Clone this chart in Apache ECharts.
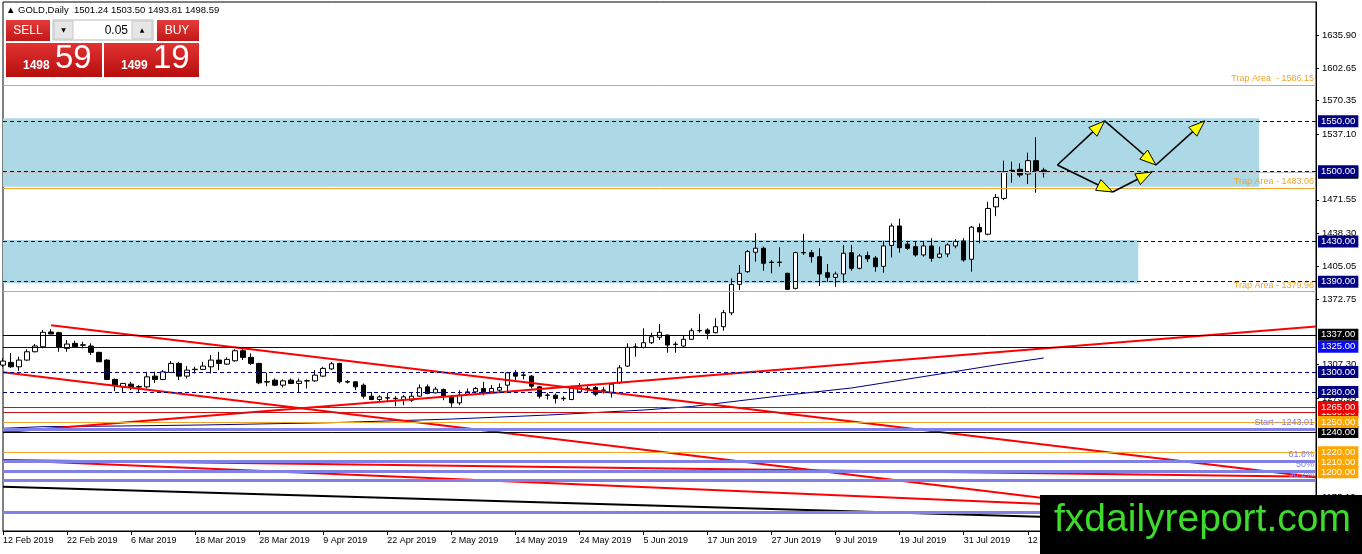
<!DOCTYPE html>
<html><head><meta charset="utf-8">
<script src="https://cdn.jsdelivr.net/npm/echarts@6/dist/echarts.min.js"></script>
<style>html,body{margin:0;padding:0;background:#fff}#c{width:1362px;height:554px}</style>
</head><body><div id="c"></div>
<script>
const FONT = "'Liberation Sans', Arial, sans-serif";

// x-axis tick labels (one every 8 trading days)
const dateLabels = ['12 Feb 2019','22 Feb 2019','6 Mar 2019','18 Mar 2019','28 Mar 2019','9 Apr 2019','22 Apr 2019','2 May 2019','14 May 2019','24 May 2019','5 Jun 2019','17 Jun 2019','27 Jun 2019','9 Jul 2019','19 Jul 2019','31 Jul 2019','12 Aug 2019'];
const slotCount = 165; // chart width in bar slots (incl. empty space on the right)

// daily candles: [open, close, low, high]
const candles = [
[1306.8,1310.8,1304.8,1313.8],[1309.5,1305.1,1304.1,1318.8],[1305.1,1311.8,1301.1,1315.1],[1311.8,1320.1,1311.1,1322.5],
[1320.1,1325.8,1319.5,1327.8],[1325.1,1339.5,1323.5,1341.8],[1339.8,1337.8,1337.8,1342.5],[1339.1,1324.5,1320.1,1340.1],
[1323.5,1327.8,1320.1,1331.8],[1328.5,1325.1,1324.5,1331.1],[1327.0,1326.6,1323.5,1330.1],[1325.8,1319.5,1316.8,1328.5],
[1319.5,1310.1,1310.1,1320.1],[1311.8,1292.5,1291.8,1312.5],[1292.5,1286.8,1280.8,1293.5],[1285.1,1288.5,1280.1,1289.1],
[1287.8,1285.1,1281.8,1290.1],[1285.5,1284.9,1280.1,1286.8],[1285.1,1295.1,1283.5,1300.1],[1295.8,1292.5,1289.1,1300.1],
[1292.5,1300.1,1291.8,1301.8],[1299.5,1308.5,1299.5,1310.8],[1308.5,1295.8,1291.8,1310.1],[1295.8,1301.8,1293.5,1305.8],
[1302.3,1302.7,1298.5,1305.1],[1302.5,1305.8,1301.8,1310.1],[1305.1,1311.8,1298.5,1316.8],[1311.8,1308.5,1301.8,1320.1],
[1307.8,1312.5,1306.8,1314.5],[1311.1,1321.1,1310.1,1322.5],[1321.1,1314.5,1311.8,1323.5],[1314.5,1308.5,1306.8,1318.5],
[1308.5,1289.1,1287.8,1309.1],[1290.3,1289.9,1285.8,1299.1],[1291.8,1286.8,1285.8,1293.5],[1286.8,1291.1,1284.5,1292.5],
[1291.8,1288.5,1287.8,1293.5],[1288.5,1290.8,1280.1,1293.5],[1290.9,1291.3,1283.5,1292.5],[1291.1,1296.8,1290.1,1301.8],
[1295.8,1303.5,1295.1,1305.1],[1303.0,1308.1,1301.8,1310.1],[1308.5,1290.1,1288.5,1309.1],[1290.3,1289.9,1288.5,1291.8],
[1290.1,1285.1,1281.8,1290.8],[1286.8,1275.8,1273.5,1288.5],[1275.8,1272.5,1271.8,1280.1],[1272.5,1275.1,1271.1,1276.8],
[1273.9,1274.3,1270.1,1279.1],[1273.7,1273.3,1265.8,1275.8],[1272.5,1275.1,1266.8,1276.8],[1271.8,1275.8,1270.1,1280.1],
[1275.8,1284.1,1275.1,1287.5],[1285.1,1278.5,1277.8,1287.5],[1279.1,1282.8,1278.5,1285.1],[1282.5,1275.8,1271.8,1283.5],
[1275.1,1269.1,1265.1,1276.8],[1269.1,1276.8,1266.8,1281.8],[1277.8,1280.1,1276.8,1283.5],[1280.1,1283.5,1278.5,1285.1],
[1283.5,1279.1,1276.8,1290.1],[1280.1,1283.5,1278.5,1286.8],[1281.8,1284.5,1280.1,1288.5],[1286.8,1299.1,1280.1,1300.1],
[1299.1,1295.8,1291.8,1301.8],[1297.0,1296.6,1292.5,1300.1],[1295.8,1285.8,1283.5,1296.8],[1285.1,1275.8,1273.5,1285.8],
[1276.6,1277.0,1272.5,1279.1],[1276.8,1273.5,1268.5,1278.5],[1273.3,1273.7,1271.1,1275.8],[1272.5,1283.5,1271.8,1285.1],
[1280.1,1285.1,1278.8,1288.8],[1283.3,1283.7,1280.1,1285.8],[1284.5,1277.8,1275.8,1285.8],[1281.6,1282.0,1278.5,1285.1],
[1279.1,1287.8,1274.5,1289.1],[1289.1,1304.1,1287.8,1306.8],[1305.8,1324.5,1305.1,1328.5],[1324.6,1325.0,1315.1,1328.5],
[1324.5,1329.1,1323.5,1343.5],[1329.1,1335.1,1327.8,1339.1],[1334.5,1339.5,1331.8,1347.8],[1336.8,1326.8,1319.1,1337.0],
[1327.3,1327.7,1319.1,1330.1],[1325.8,1332.5,1323.8,1335.8],[1332.5,1341.1,1331.8,1343.5],[1341.0,1341.4,1339.1,1357.8],
[1341.8,1338.5,1332.5,1343.5],[1339.1,1345.1,1338.5,1353.5],[1345.1,1359.1,1341.1,1361.8],[1358.9,1387.3,1356.6,1393.3],
[1387.3,1398.3,1381.6,1406.6],[1399.9,1419.9,1398.9,1421.6],[1419.3,1423.3,1409.9,1438.3],[1423.3,1408.3,1400.9,1424.9],
[1409.5,1409.1,1398.3,1411.6],[1409.1,1409.5,1404.9,1424.3],[1398.3,1382.3,1381.6,1398.9],[1383.3,1418.9,1382.3,1419.9],
[1418.7,1419.1,1416.6,1437.6],[1418.9,1414.9,1408.9,1421.6],[1414.9,1397.6,1385.6,1423.3],[1398.9,1394.3,1389.9,1407.6],
[1394.3,1397.6,1384.9,1399.9],[1397.6,1418.3,1388.9,1426.6],[1418.9,1403.3,1400.9,1426.6],[1403.3,1415.6,1402.3,1417.6],
[1416.1,1412.8,1409.6,1419.9],[1413.6,1404.9,1399.9,1415.6],[1405.3,1425.6,1398.9,1430.6],[1426.1,1445.5,1414.1,1448.0],
[1445.5,1423.9,1418.9,1452.8],[1427.3,1423.3,1421.6,1429.9],[1424.9,1416.6,1414.9,1429.9],[1416.6,1425.6,1414.9,1429.9],
[1425.6,1413.3,1409.9,1433.3],[1414.3,1417.6,1413.3,1424.9],[1417.6,1426.6,1414.3,1428.3],[1425.6,1429.9,1423.3,1432.3],
[1430.6,1411.6,1409.9,1433.3],[1412.3,1444.3,1399.9,1445.6],[1444.0,1439.6,1428.2,1448.0],[1437.3,1463.0,1436.3,1469.6],
[1464.6,1474.0,1455.3,1477.3],[1473.0,1499.6,1471.3,1510.6],[1501.0,1500.6,1488.6,1509.6],[1502.0,1496.3,1494.0,1508.0],
[1497.3,1510.6,1487.3,1518.6],[1510.6,1500.6,1478.6,1534.0],[1501.24,1498.59,1493.81,1503.5]
];

// right price scale labels
const yTicks = [1635.90,1602.65,1570.35,1537.10,1471.55,1438.30,1405.05,1372.75,1307.30,1273.95,1175.10];

// horizontal levels
const dashedLevels = [1550, 1500, 1430, 1390, 1300, 1280];
const trapLevels = [1586.15, 1483.06, 1379.96];
const trapTexts = ['Trap Area  - 1586.15', 'Trap Area - 1483.06', 'Trap Area - 1379.96'];
const orangeLevels = [1250, 1220, 1210, 1200];
const redLevels = [1260, 1265];
const blackLevels = [1337, 1240];
const blueLevels = [1325];
const bidLevel = 1498.59;
const startLevel = 1243.01;
const fibLevels = [1211.15, 1201.3, 1191.5, 1159.6];
const fibNames = ['61.8%', '50%', '38.2%', ''];

// zones [barIndex, price]
const zoneUpper = [[0, 1553], [156.9, 1484.5]];
const zoneLower = [[0, 1431.5], [141.8, 1388.5]];

// trend lines [barIndex, price]
const redTrends = [
  [[6.0, 1346.5], [164, 1195.0]],
  [[0, 1299.6], [164, 1141.5]],
  [[0, 1239.8], [164, 1345.3]],
  [[0, 1212.1], [164, 1156.9]],
  [[0, 1212.2], [164, 1195.5]]
];
const blackTrend = [[0, 1185.6], [164, 1147.7]];
const maPoints = [[0,1243.8],[5,1245.4],[15,1246.1],[25,1247.1],[41,1249.4],[56,1253.0],[68,1257.0],[80,1262.0],[86,1265.5],[98,1277.0],[106,1284.0],[117,1297.9],[124,1306.9],[130,1313.9]];

// projection arrows [x1, y1, x2, y2]
const arrows = [
  [131.7,1506.3,137.6,1550.2],
  [137.6,1550.2,144.0,1506.3],
  [144.0,1506.3,150.1,1550.2],
  [131.7,1506.3,138.6,1479.4],
  [138.6,1479.4,143.5,1499.3]
];

const cats = Array.from({length: slotCount}, (_, i) => String(i));
const showTick = (i) => i % 8 === 0 && i / 8 < dateLabels.length;

function boxLabel(v, bg) {
  return {show: true, position: 'end', formatter: v.toFixed(2), color: '#fff', backgroundColor: bg,
    padding: [1, 3, 0, 3], fontSize: 9.5, fontFamily: FONT, distance: 2, lineHeight: 11};
}
function textLabel(t, color) {
  return {show: true, position: 'insideEndTop', formatter: t, color: color, fontSize: 9, fontFamily: FONT, distance: 2};
}

const ORANGE = '#f2a52a', NAVY = '#000080', PURPLE = '#8080e6';
const mlData = [];
mlData.push({yAxis: bidLevel, lineStyle: {color: '#c0c0c0', type: 'solid', width: 1}, label: boxLabel(bidLevel, '#000')});
trapLevels.forEach((v, i) => mlData.push({yAxis: v, lineStyle: {color: ORANGE, type: 'solid', width: 1}, label: textLabel(trapTexts[i], ORANGE)}));
dashedLevels.forEach(v => mlData.push({yAxis: v, lineStyle: {color: NAVY, type: [4, 3], width: 1}, label: boxLabel(v, NAVY)}));
blackLevels.forEach(v => mlData.push({yAxis: v, lineStyle: {color: '#000', type: 'solid', width: 1}, label: boxLabel(v, '#000')}));
blueLevels.forEach(v => mlData.push({yAxis: v, lineStyle: {color: '#0000a0', type: 'solid', width: 1}, label: boxLabel(v, '#0a0af5')}));
redLevels.forEach(v => mlData.push({yAxis: v, lineStyle: {color: '#c81414', type: 'solid', width: 1}, label: boxLabel(v, '#f00000')}));
orangeLevels.forEach(v => mlData.push({yAxis: v, lineStyle: {color: ORANGE, type: 'solid', width: 1}, label: boxLabel(v, '#ffa500')}));
mlData.push({yAxis: startLevel, lineStyle: {color: PURPLE, type: 'solid', width: 3}, label: textLabel('Start - ' + startLevel.toFixed(2), PURPLE)});
fibLevels.forEach((v, i) => mlData.push({yAxis: v, lineStyle: {color: PURPLE, type: 'solid', width: 3},
  label: fibNames[i] ? textLabel(fibNames[i], PURPLE) : {show: false}}));

const redGrad = {type: 'linear', x: 0, y: 0, x2: 0, y2: 1, colorStops: [{offset: 0, color: '#e23232'}, {offset: 1, color: '#b70e0e'}]};
const btnGrad = {type: 'linear', x: 0, y: 0, x2: 0, y2: 1, colorStops: [{offset: 0, color: '#e43a3a'}, {offset: 1, color: '#c31818'}]};

const series = [
  {type: 'line', xAxisIndex: 1, data: [[0, 1500]], showSymbol: false, symbol: 'none', lineStyle: {opacity: 0}, silent: true, z: 1,
    markArea: {silent: true, itemStyle: {color: '#add8e6'},
      data: [[{coord: zoneUpper[0]}, {coord: zoneUpper[1]}], [{coord: zoneLower[0]}, {coord: zoneLower[1]}]]}},
  {type: 'line', xAxisIndex: 1, data: [[0, 1500]], showSymbol: false, symbol: 'none', lineStyle: {opacity: 0}, silent: true, z: 2,
    markLine: {silent: true, symbol: ['none', 'none'], animation: false, data: mlData}},
  {type: 'candlestick', xAxisIndex: 0, data: candles, barWidth: 5, z: 3, silent: true,
    itemStyle: {color: '#fff', color0: '#000', borderColor: '#000', borderColor0: '#000', borderWidth: 1}},
  {type: 'line', xAxisIndex: 1, data: maPoints, symbol: 'none', lineStyle: {color: NAVY, width: 1}, z: 4, silent: true}
];
redTrends.forEach(t => series.push({type: 'line', xAxisIndex: 1, data: t, symbol: 'none', lineStyle: {color: '#f00', width: 2}, z: 4, silent: true}));
series.push({type: 'line', xAxisIndex: 1, data: blackTrend, symbol: 'none', lineStyle: {color: '#000', width: 2}, z: 4, silent: true});
series.push({type: 'custom', xAxisIndex: 1, data: arrows, encode: {x: [0, 2], y: [1, 3]}, z: 6, silent: true,
  renderItem: (params, api) => {
    const p1 = api.coord([api.value(0), api.value(1)]);
    const p2 = api.coord([api.value(2), api.value(3)]);
    const dx = p2[0] - p1[0], dy = p2[1] - p1[1];
    const len = Math.hypot(dx, dy), ux = dx / len, uy = dy / len;
    const L = 16, W = 6;
    const bx = p2[0] - ux * L, by = p2[1] - uy * L;
    return {type: 'group', children: [
      {type: 'line', shape: {x1: p1[0], y1: p1[1], x2: p2[0], y2: p2[1]}, style: {stroke: '#000', lineWidth: 1.6}},
      {type: 'polygon', shape: {points: [[p2[0], p2[1]], [bx - uy * W, by + ux * W], [bx + uy * W, by - ux * W]]},
        style: {fill: '#ffff00', stroke: '#000', lineWidth: 1}}
    ]};
  }});

const chart = echarts.init(document.getElementById('c'), null, {renderer: 'canvas'});
chart.setOption({
  animation: false,
  backgroundColor: '#fff',
  grid: {left: 3, right: 46, top: 2, bottom: 23, show: true, borderColor: '#000', borderWidth: 1, backgroundColor: '#fff'},
  xAxis: [
    {type: 'category', data: cats, boundaryGap: false,
      axisLine: {onZero: false, lineStyle: {color: '#000', width: 1}},
      axisTick: {show: true, interval: showTick, length: 4, lineStyle: {color: '#000'}},
      axisLabel: {interval: showTick, align: 'left', fontSize: 9, fontFamily: FONT, color: '#000', margin: 5,
        formatter: (v) => dateLabels[Number(v) / 8] || ''},
      splitLine: {show: false}},
    {type: 'value', min: 0, max: slotCount - 1, show: false, axisLine: {onZero: false}}
  ],
  yAxis: {type: 'value', position: 'right', min: 1141.4, max: 1668.8,
    axisLine: {show: true, onZero: false, lineStyle: {color: '#000'}},
    axisTick: {show: true, customValues: yTicks, length: 3, lineStyle: {color: '#000'}},
    axisLabel: {customValues: yTicks, formatter: (v) => v.toFixed(2), fontSize: 9.5, fontFamily: FONT, color: '#000', margin: 6},
    splitLine: {show: false}},
  series: series,
  graphic: [
    {type: 'text', x: 6, y: 5, z: 100, style: {text: '\u25B2 GOLD,Daily  1501.24 1503.50 1493.81 1498.59', fontSize: 9.5, fontFamily: FONT, fill: '#000'}},
    {type: 'rect', z: 100, shape: {x: 6, y: 20, width: 44, height: 21}, style: {fill: btnGrad}},
    {type: 'text', z: 101, x: 28, y: 31, style: {text: 'SELL', fontSize: 12, fontFamily: FONT, fill: '#fff', align: 'center', verticalAlign: 'middle'}},
    {type: 'rect', z: 100, shape: {x: 53, y: 20, width: 100, height: 20}, style: {fill: '#fff', stroke: '#b8b8b8', lineWidth: 1}},
    {type: 'rect', z: 101, shape: {x: 54, y: 21, width: 19, height: 18}, style: {fill: '#e6e6e6', stroke: '#c8c8c8', lineWidth: 1}},
    {type: 'text', z: 102, x: 63.5, y: 30, style: {text: '\u25BC', fontSize: 6, fontFamily: "'DejaVu Sans'", fill: '#000', align: 'center', verticalAlign: 'middle'}},
    {type: 'rect', z: 101, shape: {x: 132, y: 21, width: 20, height: 18}, style: {fill: '#e6e6e6', stroke: '#c8c8c8', lineWidth: 1}},
    {type: 'text', z: 102, x: 142, y: 30, style: {text: '\u25B2', fontSize: 6, fontFamily: "'DejaVu Sans'", fill: '#000', align: 'center', verticalAlign: 'middle'}},
    {type: 'text', z: 102, x: 128, y: 30.5, style: {text: '0.05', fontSize: 12, fontFamily: FONT, fill: '#000', align: 'right', verticalAlign: 'middle'}},
    {type: 'rect', z: 100, shape: {x: 157, y: 20, width: 42, height: 21}, style: {fill: btnGrad}},
    {type: 'text', z: 101, x: 177, y: 31, style: {text: 'BUY', fontSize: 12, fontFamily: FONT, fill: '#fff', align: 'center', verticalAlign: 'middle'}},
    {type: 'rect', z: 100, shape: {x: 6, y: 43, width: 96, height: 34}, style: {fill: redGrad}},
    {type: 'rect', z: 100, shape: {x: 104, y: 43, width: 95, height: 34}, style: {fill: redGrad}},
    {type: 'text', z: 101, x: 23, y: 66, style: {text: '1498', fontSize: 12, fontWeight: 'bold', fontFamily: FONT, fill: '#fff', verticalAlign: 'middle'}},
    {type: 'text', z: 101, x: 55, y: 59, style: {text: '59', fontSize: 33, fontFamily: FONT, fill: '#fff', verticalAlign: 'middle'}},
    {type: 'text', z: 101, x: 121, y: 66, style: {text: '1499', fontSize: 12, fontWeight: 'bold', fontFamily: FONT, fill: '#fff', verticalAlign: 'middle'}},
    {type: 'text', z: 101, x: 153, y: 59, style: {text: '19', fontSize: 33, fontFamily: FONT, fill: '#fff', verticalAlign: 'middle'}},
    {type: 'rect', z: 200, shape: {x: 1040, y: 495, width: 322, height: 59}, style: {fill: '#000'}},
    {type: 'text', z: 201, x: 1054, y: 520, style: {text: 'fxdailyreport.com', fontSize: 39, fontFamily: FONT, fill: '#3ddb2c', verticalAlign: 'middle'}}
  ]
});
</script>
</body></html>
